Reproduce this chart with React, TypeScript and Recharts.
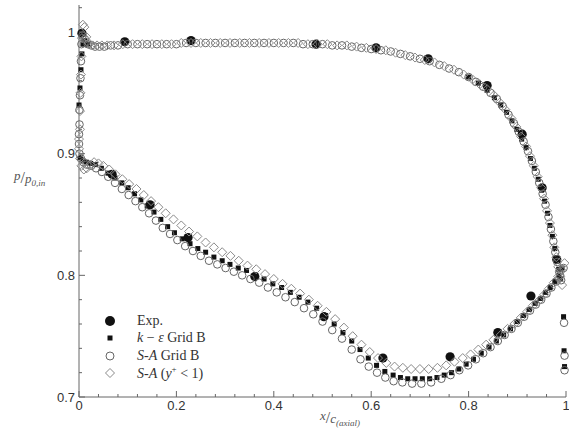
import React from 'react';
import { ScatterChart, Scatter, XAxis, YAxis } from 'recharts';

// measured pressure ratio p/p0,in
const expData = [
  [0.006, 0.999], [0.094, 0.992], [0.23, 0.993], [0.487, 0.99], [0.61, 0.987], [0.717, 0.978],
  [0.838, 0.956], [0.91, 0.916], [0.951, 0.872], [0.981, 0.813],
  [0.068, 0.883], [0.146, 0.858], [0.224, 0.831], [0.361, 0.799], [0.503, 0.766], [0.624, 0.732],
  [0.762, 0.733], [0.86, 0.753], [0.928, 0.783],
];

// k-epsilon, grid B (on the flat part of the upper branch the squares sit under the other markers)
const kUpper = [
  [0.0, 0.94], [0.002, 0.954], [0.004, 0.969], [0.006, 0.982], [0.008, 0.99], [0.012, 0.993], [0.018, 0.99],
  [0.8, 0.963], [0.82, 0.958], [0.838, 0.952], [0.853, 0.946], [0.866, 0.94], [0.878, 0.934], [0.889, 0.927],
  [0.899, 0.92], [0.909, 0.912], [0.918, 0.905], [0.927, 0.896], [0.935, 0.888], [0.943, 0.879], [0.95, 0.87],
  [0.956, 0.861], [0.962, 0.851], [0.967, 0.841], [0.972, 0.832], [0.977, 0.822], [0.981, 0.813],
  [0.985, 0.805], [0.989, 0.797],
];
const kLower = [
  [0.003, 0.897], [0.008, 0.894], [0.015, 0.893], [0.024, 0.892], [0.034, 0.891], [0.046, 0.888], [0.06, 0.884],
  [0.074, 0.88], [0.088, 0.876], [0.101, 0.872], [0.114, 0.867], [0.127, 0.862], [0.14, 0.857], [0.154, 0.852],
  [0.168, 0.846], [0.182, 0.84], [0.196, 0.835], [0.212, 0.83], [0.228, 0.826], [0.244, 0.822], [0.26, 0.819],
  [0.277, 0.815], [0.294, 0.812], [0.31, 0.809], [0.327, 0.806], [0.344, 0.804], [0.362, 0.8], [0.38, 0.797],
  [0.398, 0.793], [0.416, 0.79], [0.434, 0.786], [0.452, 0.782], [0.47, 0.778], [0.488, 0.773], [0.506, 0.767],
  [0.524, 0.76], [0.542, 0.753], [0.56, 0.746], [0.577, 0.739], [0.594, 0.732], [0.611, 0.726], [0.628, 0.721],
  [0.645, 0.718], [0.66, 0.716], [0.675, 0.715], [0.69, 0.715], [0.705, 0.715], [0.72, 0.715], [0.735, 0.716],
  [0.75, 0.718], [0.765, 0.72], [0.78, 0.723], [0.795, 0.727], [0.81, 0.731], [0.826, 0.736], [0.842, 0.741],
  [0.857, 0.746], [0.872, 0.751], [0.886, 0.756], [0.9, 0.762], [0.913, 0.767], [0.925, 0.772], [0.937, 0.777],
  [0.948, 0.781], [0.958, 0.786], [0.968, 0.79], [0.977, 0.795], [0.985, 0.8], [0.992, 0.806],
];
const kTrailing = [[0.995, 0.766], [0.996, 0.738], [0.997, 0.725]];

// Spalart-Allmaras, grid B
const saUpper = [
  [0.0, 0.908], [0.0, 0.916], [0.001, 0.924], [0.001, 0.936], [0.002, 0.948], [0.003, 0.962], [0.004, 0.976],
  [0.005, 0.99], [0.007, 0.997], [0.012, 0.994], [0.018, 0.99], [0.025, 0.989], [0.033, 0.988], [0.042, 0.988],
  [0.052, 0.988], [0.065, 0.989], [0.08, 0.989], [0.1, 0.99], [0.12, 0.99], [0.14, 0.99], [0.16, 0.99],
  [0.18, 0.99], [0.2, 0.99], [0.22, 0.991], [0.24, 0.991], [0.26, 0.991], [0.28, 0.991], [0.3, 0.991],
  [0.32, 0.991], [0.34, 0.991], [0.36, 0.991], [0.38, 0.991], [0.4, 0.991], [0.42, 0.991], [0.44, 0.991],
  [0.46, 0.99], [0.48, 0.99], [0.5, 0.99], [0.52, 0.989], [0.54, 0.989], [0.56, 0.988], [0.58, 0.987],
  [0.6, 0.986], [0.62, 0.985], [0.64, 0.984], [0.66, 0.982], [0.68, 0.98], [0.7, 0.978], [0.72, 0.976],
  [0.74, 0.973], [0.76, 0.97], [0.78, 0.967], [0.8, 0.963], [0.815, 0.959], [0.83, 0.955], [0.845, 0.95],
  [0.858, 0.945], [0.87, 0.939], [0.882, 0.932], [0.893, 0.925], [0.903, 0.918], [0.913, 0.91], [0.922, 0.902],
  [0.93, 0.894], [0.938, 0.885], [0.945, 0.876], [0.952, 0.867], [0.958, 0.858], [0.964, 0.848], [0.969, 0.838],
  [0.974, 0.828], [0.978, 0.819], [0.982, 0.811], [0.986, 0.803], [0.99, 0.796],
];
const saLower = [
  [0.001, 0.9], [0.004, 0.896], [0.009, 0.893], [0.016, 0.891], [0.025, 0.89], [0.035, 0.888], [0.047, 0.885],
  [0.06, 0.881], [0.074, 0.876], [0.088, 0.871], [0.102, 0.866], [0.116, 0.861], [0.13, 0.856], [0.144, 0.851],
  [0.158, 0.845], [0.172, 0.839], [0.187, 0.834], [0.202, 0.829], [0.218, 0.824], [0.234, 0.82], [0.25, 0.816],
  [0.267, 0.812], [0.284, 0.809], [0.301, 0.806], [0.318, 0.803], [0.335, 0.8], [0.352, 0.797], [0.37, 0.794],
  [0.388, 0.79], [0.406, 0.786], [0.424, 0.782], [0.443, 0.778], [0.462, 0.773], [0.481, 0.768], [0.5, 0.762],
  [0.52, 0.755], [0.54, 0.748], [0.56, 0.739], [0.578, 0.731], [0.595, 0.725], [0.612, 0.72], [0.629, 0.716],
  [0.646, 0.713], [0.664, 0.712], [0.684, 0.711], [0.703, 0.711], [0.723, 0.712], [0.744, 0.715], [0.763, 0.718],
  [0.781, 0.722], [0.799, 0.726], [0.815, 0.731], [0.83, 0.736], [0.845, 0.741], [0.86, 0.746], [0.874, 0.751],
  [0.888, 0.756], [0.901, 0.761], [0.914, 0.766], [0.926, 0.771], [0.938, 0.776], [0.949, 0.78], [0.96, 0.785],
  [0.97, 0.79], [0.98, 0.795], [0.988, 0.8], [0.995, 0.806],
];
const saTrailing = [[0.996, 0.761], [0.997, 0.734], [0.997, 0.722]];

// Spalart-Allmaras, y+ < 1 grid
const yUpper = [
  [0.002, 0.92], [0.002, 0.935], [0.003, 0.95], [0.004, 0.965], [0.005, 0.98], [0.006, 0.995], [0.008, 1.006],
  [0.011, 1.004], [0.015, 0.996], [0.02, 0.991], [0.028, 0.989], [0.037, 0.989], [0.047, 0.989], [0.058, 0.989],
  [0.072, 0.989], [0.09, 0.99], [0.11, 0.99], [0.13, 0.99], [0.15, 0.99], [0.17, 0.99], [0.19, 0.99],
  [0.21, 0.991], [0.23, 0.991], [0.25, 0.991], [0.27, 0.991], [0.29, 0.991], [0.31, 0.991], [0.33, 0.991],
  [0.35, 0.991], [0.37, 0.991], [0.39, 0.991], [0.41, 0.991], [0.43, 0.991], [0.45, 0.991], [0.47, 0.99],
  [0.49, 0.99], [0.51, 0.99], [0.53, 0.989], [0.55, 0.989], [0.57, 0.988], [0.59, 0.987], [0.61, 0.986],
  [0.63, 0.985], [0.65, 0.983], [0.67, 0.981], [0.69, 0.979], [0.71, 0.977], [0.73, 0.975], [0.75, 0.972],
  [0.77, 0.969], [0.79, 0.965], [0.808, 0.961], [0.823, 0.957], [0.838, 0.953], [0.852, 0.948], [0.864, 0.942],
  [0.876, 0.936], [0.888, 0.929], [0.898, 0.922], [0.908, 0.914], [0.918, 0.906], [0.926, 0.898], [0.934, 0.89],
  [0.942, 0.881], [0.949, 0.872], [0.955, 0.863], [0.961, 0.853], [0.967, 0.843], [0.972, 0.833], [0.976, 0.823],
  [0.98, 0.815], [0.984, 0.807], [0.988, 0.799], [0.992, 0.792],
];
const yLower = [
  [0.0, 0.912], [0.0, 0.904], [0.002, 0.896], [0.005, 0.89], [0.01, 0.887], [0.016, 0.888], [0.023, 0.891],
  [0.031, 0.893], [0.04, 0.892], [0.05, 0.89], [0.062, 0.887], [0.075, 0.883], [0.089, 0.879], [0.103, 0.875],
  [0.118, 0.871], [0.133, 0.866], [0.148, 0.861], [0.163, 0.856], [0.178, 0.851], [0.194, 0.846], [0.21, 0.841],
  [0.226, 0.836], [0.243, 0.832], [0.26, 0.827], [0.277, 0.823], [0.294, 0.819], [0.311, 0.816], [0.328, 0.812],
  [0.346, 0.808], [0.364, 0.805], [0.382, 0.801], [0.4, 0.797], [0.418, 0.793], [0.436, 0.789], [0.454, 0.785],
  [0.472, 0.78], [0.49, 0.775], [0.508, 0.77], [0.526, 0.764], [0.544, 0.757], [0.562, 0.75], [0.58, 0.743],
  [0.597, 0.737], [0.614, 0.732], [0.631, 0.728], [0.648, 0.725], [0.665, 0.724], [0.682, 0.723], [0.7, 0.723],
  [0.718, 0.723], [0.736, 0.724], [0.754, 0.726], [0.771, 0.729], [0.788, 0.732], [0.804, 0.735], [0.82, 0.739],
  [0.836, 0.743], [0.851, 0.747], [0.866, 0.751], [0.88, 0.756], [0.894, 0.76], [0.907, 0.765], [0.92, 0.77],
  [0.932, 0.775], [0.944, 0.779], [0.955, 0.784], [0.965, 0.789], [0.975, 0.794], [0.984, 0.799], [0.991, 0.804],
  [0.997, 0.81],
];

const xTicks = [0, 0.04, 0.08, 0.12, 0.16, 0.2, 0.24, 0.28, 0.32, 0.36, 0.4, 0.44, 0.48, 0.52, 0.56, 0.6,
  0.64, 0.68, 0.72, 0.76, 0.8, 0.84, 0.88, 0.92, 0.96, 1];
const yTicks = [0.7, 0.72, 0.74, 0.76, 0.78, 0.8, 0.82, 0.84, 0.86, 0.88, 0.9, 0.92, 0.94, 0.96, 0.98, 1, 1.02];

const toPts = (arr: number[][]) => arr.map(([x, y]) => ({ x, y }));
const isMajor = (v: number) => Math.abs(v * 10 - Math.round(v * 10)) < 1e-6;
const fmt = (v: number) => String(Math.round(v * 10) / 10);

const AXIS = '#666';
const tickFont = { fontFamily: '"Liberation Sans", Arial, sans-serif', fontSize: 13, fill: '#333' };

const XTick = (p: any) => {
  const v = p.payload.value;
  const major = isMajor(v * 0.5); // every 0.2
  return (
    <g>
      <line x1={p.x} x2={p.x} y1={p.y} y2={p.y - (major ? 6 : 3)} stroke={AXIS} />
      {major && (
        <text x={p.x} y={p.y + 13} textAnchor="middle" {...tickFont}>{fmt(v)}</text>
      )}
    </g>
  );
};

const YTick = (p: any) => {
  const v = p.payload.value;
  const major = isMajor(v);
  return (
    <g>
      <line x1={p.x} x2={p.x + (major ? 6 : 3)} y1={p.y} y2={p.y} stroke={AXIS} />
      {major && v < 1.01 && (
        <text x={p.x - 4} y={p.y + 4.5} textAnchor="end" {...tickFont}>{fmt(v)}</text>
      )}
    </g>
  );
};

const Dot = (p: any) => <circle cx={p.cx} cy={p.cy} r={4.6} fill="#111" />;
const Square = (p: any) => <rect x={p.cx - 2.5} y={p.cy - 2.5} width={5} height={5} fill="#111" />;
const Ring = (p: any) => <circle cx={p.cx} cy={p.cy} r={3.8} fill="none" stroke="#666" strokeWidth={1} />;
const Diamond = (p: any) => (
  <path d={`M${p.cx},${p.cy - 4.5}L${p.cx + 4.5},${p.cy}L${p.cx},${p.cy + 4.5}L${p.cx - 4.5},${p.cy}Z`}
    fill="none" stroke="#8a8a8a" strokeWidth={1} />
);

const serif = '"Liberation Serif", "DejaVu Serif", serif';

function LegendBox() {
  const rows: [React.ReactNode, React.ReactNode][] = [
    [<circle cx={8} cy={8} r={5} fill="#111" />, <span>Exp.</span>],
    [<rect x={5.5} y={5.5} width={5} height={5} fill="#111" />, <span><i>k</i> − <i>ε</i> Grid B</span>],
    [<circle cx={8} cy={8} r={4} fill="#fff" stroke="#666" />, <span><i>S-A</i> Grid B</span>],
    [<path d="M8,3.5L12.5,8L8,12.5L3.5,8Z" fill="#fff" stroke="#8a8a8a" />,
      <span><i>S-A</i> (<i>y</i><sup style={{ fontSize: 9 }}>+</sup> &lt; 1)</span>],
  ];
  return (
    <div style={{ position: 'absolute', left: 102, top: 312, fontFamily: serif, fontSize: 14, color: '#333' }}>
      {rows.map(([m, t], i) => (
        <div key={i} style={{ display: 'flex', alignItems: 'center', height: 17.5 }}>
          <svg width={16} height={16} style={{ marginRight: 19 }}>{m}</svg>
          {t}
        </div>
      ))}
    </div>
  );
}

export default function App() {
  return (
    <div style={{ position: 'absolute', left: 0, top: 0, width: 569, height: 434, background: '#fff' }}>
      <ScatterChart width={569} height={434} margin={{ top: 5, right: 3, left: 0, bottom: 0 }}>
        <XAxis
          type="number"
          dataKey="x"
          domain={[0, 1]}
          ticks={xTicks}
          interval={0}
          height={37}
          tickSize={0}
          tickMargin={0}
          stroke={AXIS}
          tickLine={false}
          tick={(p: any) => <XTick {...p} />}
        />
        <YAxis
          type="number"
          dataKey="y"
          domain={[0.7, 1.0222]}
          ticks={yTicks}
          interval={0}
          width={79}
          tickSize={0}
          tickMargin={0}
          stroke={AXIS}
          tickLine={false}
          tick={(p: any) => <YTick {...p} />}
        />
        <Scatter name="Exp." data={toPts(expData)} shape={Dot} isAnimationActive={false} />
        <Scatter name="k-e Grid B" data={toPts([...kUpper, ...kLower, ...kTrailing])} shape={Square} isAnimationActive={false} />
        <Scatter name="S-A Grid B" data={toPts([...saUpper, ...saLower, ...saTrailing])} shape={Ring} isAnimationActive={false} />
        <Scatter name="S-A (y+<1)" data={toPts([...yUpper, ...yLower])} shape={Diamond} isAnimationActive={false} />
      </ScatterChart>
      <LegendBox />
      <svg width={569} height={434} style={{ position: 'absolute', left: 0, top: 0, pointerEvents: 'none' }}>
        <text x={14} y={183} fontFamily={serif} fontSize={13} fontStyle="italic" fill="#555">
          <tspan dy={-3}>p</tspan>
          <tspan dy={3} fontSize={16} fontStyle="normal">/</tspan>
          <tspan>p</tspan>
          <tspan dy={3} fontSize={9}>0,in</tspan>
        </text>
        <text x={320} y={423} fontFamily={serif} fontSize={13} fontStyle="italic" fill="#555">
          <tspan dy={-3}>x</tspan>
          <tspan dy={3} fontSize={16} fontStyle="normal">/</tspan>
          <tspan>c</tspan>
          <tspan dy={3} fontSize={9}>(axial)</tspan>
        </text>
      </svg>
    </div>
  );
}
